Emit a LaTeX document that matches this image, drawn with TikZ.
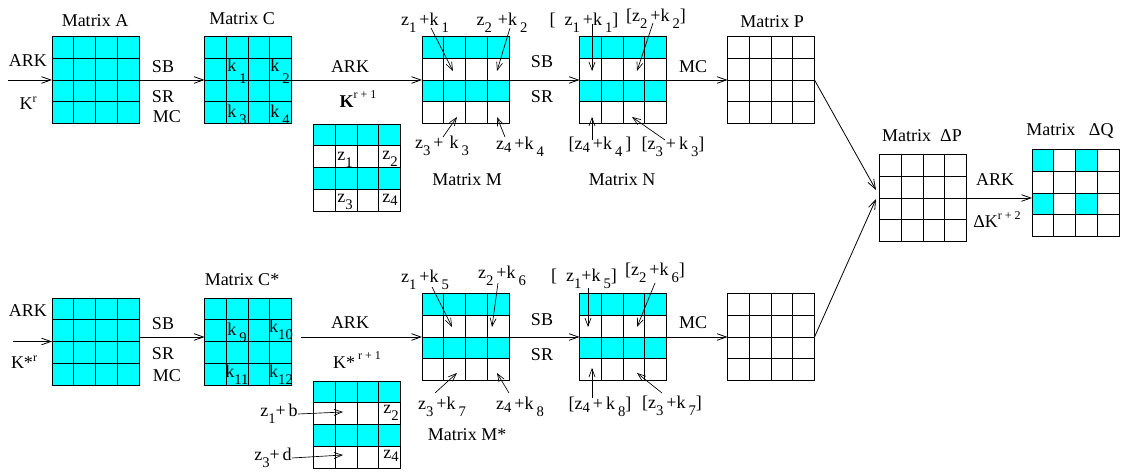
\documentclass[tikz,border=0pt]{standalone}
\usepackage{fontspec}
\setmainfont{Liberation Serif}
\usetikzlibrary{arrows.meta,calc,backgrounds}
\definecolor{aescyan}{HTML}{00FFFF}
\newcommand{\lo}[2][-5pt]{\raisebox{#1}{\fontsize{11}{12}\selectfont #2}}
\newcommand{\hi}[2][5pt]{\raisebox{#1}{\fontsize{9}{10}\selectfont #2}}
\newcommand{\matlines}[1]{%
  \foreach \i in {1,2,3}{%
    \draw[gridline] ($(#1.north west)+(\i*21.75,0)$) -- ($(#1.south west)+(\i*21.75,0)$);
    \draw[gridline] ($(#1.north west)+(0,\i*21.75)$) -- ($(#1.north east)+(0,\i*21.75)$);
  }}
\newcommand{\rowfill}[2]{%
  \fill[aescyan] ($(#1.north west)+(0,#2*21.75)$) rectangle ($(#1.north east)+(0,#2*21.75+21.75)$);}
\newcommand{\cellfill}[3]{%
  \fill[aescyan] ($(#1.north west)+(#2*21.75,#3*21.75)$) rectangle +(21.75,21.75);}
\tikzset{
  lbl/.style     ={font=\fontsize{13.5}{16}\selectfont, inner sep=0pt},
  matbox/.style  ={draw=black, line width=0.6pt, minimum width=65.25pt,
                   minimum height=65.25pt, inner sep=0pt, outer sep=0pt},
  matfull/.style ={matbox, fill=aescyan},
  gridline/.style={line width=0.6pt},
  flowarr/.style ={-{Straight Barb[length=7pt,width=5pt]}, line width=0.6pt},
  annarr/.style  ={-{Straight Barb[length=6pt,width=4.5pt]}, line width=0.5pt},
}
\begin{document}
\begin{tikzpicture}[x=0.75pt,y=-0.75pt]
  \useasboundingbox (0,0) rectangle (1143,473);

  % upper path
  \node[matfull] (matA)  at (95.5,80)    {};
  \node[matfull] (matC)  at (248,80)     {};
  \node[matbox]  (matM)  at (465.5,80)   {};
  \node[matbox]  (matN)  at (623,80)     {};
  \node[matbox]  (matP)  at (771,80)     {};
  \node[matbox]  (keyK)  at (357,167.5)  {};
  % lower path
  \node[matfull] (matAs) at (95.5,341.5) {};
  \node[matfull] (matCs) at (248,341.5)  {};
  \node[matbox]  (matMs) at (465.5,337)  {};
  \node[matbox]  (matNs) at (623,337)    {};
  \node[matbox]  (matPs) at (771,337)    {};
  \node[matbox]  (keyKs) at (357,424.5)  {};
  % differences
  \node[matbox]  (matdP) at (923,198)    {};
  \node[matbox]  (matdQ) at (1075.5,193) {};

  \begin{scope}[on background layer]
    \foreach \m in {matM,matN,keyK,matMs,matNs,keyKs}{\rowfill{\m}{0} \rowfill{\m}{2}}
    \cellfill{matdQ}{0}{0} \cellfill{matdQ}{2}{0}
    \cellfill{matdQ}{0}{2} \cellfill{matdQ}{2}{2}
  \end{scope}
  \foreach \m in {matA,matC,matM,matN,matP,keyK,matAs,matCs,matMs,matNs,matPs,keyKs,matdP,matdQ}{\matlines{\m}}

  % titles
  \node[lbl] (tA)  at (95,21)    {Matrix A};
  \node[lbl] (tC)  at (242,19)   {Matrix C};
  \node[lbl] (tM)  at (467,180)  {Matrix M};
  \node[lbl] (tN)  at (622,180)  {Matrix N};
  \node[lbl] (tP)  at (772,21.5) {Matrix P};
  \node[lbl] (tdP) at (922,136)  {Matrix\ \ ΔP};
  \node[lbl] (tdQ) at (1070,131) {Matrix\ \ \ ΔQ};
  \node[lbl] (tCs) at (242,280)  {Matrix C*};
  \node[lbl] (tMs) at (467,435)  {Matrix M*};

  % round steps, upper
  \coordinate (inA) at (8,80);
  \draw[flowarr] (inA)  -- (matA);
  \draw[flowarr] (matA) -- (matC);
  \draw[flowarr] (matC) -- (matM);
  \draw[flowarr] (matM) -- (matN);
  \draw[flowarr] (matN) -- (matP);
  \node[lbl] (ark1) at (28,61)   {ARK};
  \node[lbl] (kr1)  at (28,103)  {K\hi{r}};
  \node[lbl] (sb1)  at (163,67)  {SB};
  \node[lbl] (sr1)  at (163,97)  {SR};
  \node[lbl] (mc1)  at (167,117) {MC};
  \node[lbl] (ark2) at (350,67)  {ARK};
  \node[lbl] (kr2)  at (358,99)  {\textbf{K}\hi[7pt]{r + 1}};
  \node[lbl] (sb2)  at (542,62)  {SB};
  \node[lbl] (sr2)  at (542,97)  {SR};
  \node[lbl] (mc2)  at (693,67)  {MC};

  % round steps, lower
  \coordinate (inAs) at (13,341.5);
  \coordinate (ofCs) at (301,337);
  \draw[flowarr] (inAs) -- (matAs);
  \draw[flowarr] (matAs.east |- matMs) -- (matCs.west |- matMs);
  \draw[flowarr] (ofCs)  -- (matMs);
  \draw[flowarr] (matMs) -- (matNs);
  \draw[flowarr] (matNs) -- (matPs);
  \node[lbl] (ark4) at (28,311)  {ARK};
  \node[lbl] (kr4)  at (24,362)  {K*\hi{r}};
  \node[lbl] (sb4)  at (163,324) {SB};
  \node[lbl] (sr4)  at (163,354) {SR};
  \node[lbl] (mc4)  at (167,376) {MC};
  \node[lbl] (ark5) at (350,323) {ARK};
  \node[lbl] (kr5)  at (357,360) {K*\,\hi[7pt]{r + 1}};
  \node[lbl] (sb5)  at (542,320) {SB};
  \node[lbl] (sr5)  at (542,355) {SR};
  \node[lbl] (mc5)  at (693,323) {MC};

  % merge into delta P
  \coordinate (dPin1) at (876,190);
  \coordinate (dPin2) at (876,199);
  \draw[flowarr] (matP.east)  -- (dPin1);
  \draw[flowarr] (matPs.east) -- (dPin2);
  \draw[flowarr] (matdP.east) -- (matdQ.west |- matdP.east);
  \node[lbl] (ark3) at (995,180) {ARK};
  \node[lbl] (dk)   at (997,220) {ΔK\hi[6pt]{r + 2}};

  % key bytes
  \node[lbl] (k1)  at (237,71)  {k\,\lo[-9pt]{1}};
  \node[lbl] (k2)  at (280,71)  {k\,\lo[-9pt]{2}};
  \node[lbl] (k3)  at (237,115) {k\,\lo{3}};
  \node[lbl] (k4)  at (280,115) {k\,\lo{4}};
  \node[lbl] (k9)  at (237,333) {k\,\lo{9}};
  \node[lbl] (k10) at (281,330) {k\lo{10}};
  \node[lbl] (k11) at (237,375) {k\lo{11}};
  \node[lbl] (k12) at (281,375) {k\lo{12}};
  \node[lbl] (z1)  at (345,160) {z\lo{1}};
  \node[lbl] (z2)  at (390,159) {z\lo{2}};
  \node[lbl] (z3)  at (345,202) {z\lo{3}};
  \node[lbl] (z4)  at (390,200) {z\lo[-2pt]{4}};
  \node[lbl] (z2s) at (391,413) {z\lo{2}};
  \node[lbl] (z4s) at (391,456) {z\lo[-2pt]{4}};
  \node[lbl] (lzb) at (279,414) {z\lo{1}+\,b};
  \node[lbl] (lzd) at (273,458) {z\lo{3}+\,d};
  \coordinate (tzb) at (343,412);
  \coordinate (tzd) at (343,455);
  \draw[annarr] (lzb.east) -- (tzb);
  \draw[annarr] (lzd.east) -- (tzd);

  % sums on matrix M and N
  \node[lbl] (lMa) at (425,23)  {z\lo{1}\,+k\,\lo{1}};
  \node[lbl] (lMb) at (502,23)  {z\lo{2}\,\,+k\,\lo{2}};
  \node[lbl] (lMc) at (442,146) {z\lo{3}\,+\,\,k\,\lo{3}};
  \node[lbl] (lMd) at (520,147) {z\lo[-2pt]{4}\,+k\,\lo{4}};
  \node[lbl] (lNa) at (584,23)  {[\,\,\,z\lo{1}\,+k\,\lo{1}]};
  \node[lbl] (lNb) at (656,19)  {[z\lo{2}\,+k\,\lo{2}]};
  \node[lbl] (lNc) at (600,147) {[z\lo[-2pt]{4}\,+k\,\lo{4}\,]};
  \node[lbl] (lNd) at (673,147) {[z\lo{3}\,+\,k\,\lo{3}]};
  \coordinate (tMa) at (453,71);
  \coordinate (tMb) at (497,71);
  \coordinate (tMc) at (457,117);
  \coordinate (tMd) at (497,117);
  \coordinate (tNa) at (592,71);
  \coordinate (tNb) at (637,71);
  \coordinate (tNc) at (592,117);
  \coordinate (tNd) at (632,117);
  \draw[annarr] ($(lMa)+(6,5)$)    -- (tMa);
  \draw[annarr] ($(lMb)+(8,5)$)    -- (tMb);
  \draw[annarr] ($(lMc)+(1,-9)$)   -- (tMc);
  \draw[annarr] ($(lMd)+(-15,-10)$) -- (tMd);
  \draw[annarr] ($(lNa)+(8,1)$)    -- (tNa);
  \draw[annarr] ($(lNb)+(-3,4)$)   -- (tNb);
  \draw[annarr] ($(lNc)+(-8,-7)$)  -- (tNc);
  \draw[annarr] ($(lNd)+(-8,-7)$)  -- (tNd);

  % sums on matrix M* and N*
  \node[lbl] (lMsa) at (425,280) {z\lo{1}\,+k\,\lo{5}};
  \node[lbl] (lMsb) at (502,276) {z\lo{2}\,+k\,\lo{6}};
  \node[lbl] (lMsc) at (442,407) {z\lo{3}\,+k\,\lo{7}};
  \node[lbl] (lMsd) at (520,407) {z\lo[-2pt]{4}\,+k\,\lo{8}};
  \node[lbl] (lNsa) at (584,279) {[\,\,\,z\lo{1}+k\,\lo{5}]};
  \node[lbl] (lNsb) at (655,273) {[z\lo{2}\,+k\,\lo{6}]};
  \node[lbl] (lNsc) at (600,407) {[z\lo[-2pt]{4}\,+\,k\,\lo{8}]};
  \node[lbl] (lNsd) at (672,406) {[z\lo{3}\,+k\,\lo{7}]};
  \coordinate (tMsa) at (452,327);
  \coordinate (tMsb) at (492,327);
  \coordinate (tMsc) at (457,373);
  \coordinate (tMsd) at (497,373);
  \coordinate (tNsa) at (588,327);
  \coordinate (tNsb) at (637,327);
  \coordinate (tNsc) at (592,368);
  \coordinate (tNsd) at (637,373);
  \draw[annarr] ($(lMsa)+(7,7)$)     -- (tMsa);
  \draw[annarr] ($(lMsb)+(-4,7)$)    -- (tMsb);
  \draw[annarr] ($(lMsc)+(-7,-14)$)  -- (tMsc);
  \draw[annarr] ($(lMsd)+(-11,-14)$) -- (tMsd);
  \draw[annarr] ($(lNsa)+(4,9)$)     -- (tNsa);
  \draw[annarr] ($(lNsb)+(0,10)$)    -- (tNsb);
  \draw[annarr] ($(lNsc)+(-8,-9)$)   -- (tNsc);
  \draw[annarr] ($(lNsd)+(-10,-13)$) -- (tNsd);
\end{tikzpicture}
\end{document}
